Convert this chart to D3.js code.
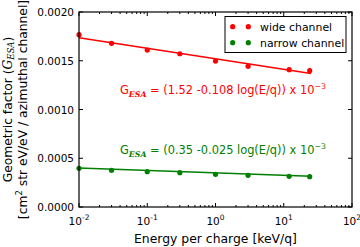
<!DOCTYPE html>
<html>
<head>
<meta charset="utf-8">
<script src="https://cdn.jsdelivr.net/npm/d3@7"></script>
<style>
  body { margin: 0; background: #fff; }
  svg { display: block; font-family: "DejaVu Sans", sans-serif; }
</style>
</head>
<body>
<svg id="chart" width="360" height="247"></svg>
<script>
// energy per charge [keV/q]
const energy = [0.01, 0.03, 0.1, 0.3, 1, 3, 12, 24];
const wideValues = [0.001767, 0.001679, 0.00161, 0.001572, 0.001497, 0.001443, 0.001408, 0.001398];
const narrowValues = [0.000397, 0.000376, 0.000362, 0.000352, 0.000335, 0.000325, 0.000315, 0.000311];
// fit line ends
const wideFit = [[0.01, 0.001736], [25, 0.001369]];
const narrowFit = [[0.01, 0.000400], [25, 0.000315]];
const yTicks = [0, 0.0005, 0.0010, 0.0015, 0.0020];
const xTicks = [1e-2, 1e-1, 1e0, 1e1, 1e2];
const xTickExp = ["-2", "-1", "0", "1", "2"];

const svg = d3.select("#chart");
const margin = {left: 79, right: 8, top: 12, bottom: 40};
const W = 360, H = 247;

const x = d3.scaleLog().domain([1e-2, 1e2]).range([margin.left, W - margin.right]);
const y = d3.scaleLinear().domain([0, 0.002]).range([H - margin.bottom, margin.top]);

const red = "#ff0000", green = "#008000";

// minor ticks
const minor = [];
for (let e = -2; e < 2; e++) for (let k = 2; k <= 9; k++) minor.push(k * Math.pow(10, e));

const g = svg.append("g");

// axes with ticks pointing in
const x0 = x.range()[0], x1 = x.range()[1], y0 = y.range()[0], y1 = y.range()[1];
g.selectAll(".xmaj").data(xTicks).enter().append("g").each(function(d) {
  const s = d3.select(this);
  s.append("line").attr("x1", x(d)).attr("x2", x(d)).attr("y1", y0).attr("y2", y0 - 4).attr("stroke", "#000");
  s.append("line").attr("x1", x(d)).attr("x2", x(d)).attr("y1", y1).attr("y2", y1 + 4).attr("stroke", "#000");
});
g.selectAll(".xmin").data(minor).enter().append("g").each(function(d) {
  const s = d3.select(this);
  s.append("line").attr("x1", x(d)).attr("x2", x(d)).attr("y1", y0).attr("y2", y0 - 2).attr("stroke", "#000");
  s.append("line").attr("x1", x(d)).attr("x2", x(d)).attr("y1", y1).attr("y2", y1 + 2).attr("stroke", "#000");
});
g.selectAll(".ymaj").data(yTicks).enter().append("g").each(function(d) {
  const s = d3.select(this);
  s.append("line").attr("x1", x0).attr("x2", x0 + 4).attr("y1", y(d)).attr("y2", y(d)).attr("stroke", "#000");
  s.append("line").attr("x1", x1).attr("x2", x1 - 4).attr("y1", y(d)).attr("y2", y(d)).attr("stroke", "#000");
  s.append("text").attr("x", x0 - 5).attr("y", y(d) + 4).attr("text-anchor", "end")
    .attr("font-size", 10.5).text(d3.format(".4f")(d));
});
g.selectAll(".xlab").data(xTicks).enter().append("text")
  .attr("x", d => x(d)).attr("y", y0 + 18).attr("text-anchor", "middle").attr("font-size", 10.5)
  .each(function(d, i) {
    const t = d3.select(this);
    t.append("tspan").text("10");
    t.append("tspan").attr("dy", -5).attr("font-size", 7.5).text(xTickExp[i]);
  });

// fit lines
const line = d3.line().x(d => x(d[0])).y(d => y(d[1]));
svg.append("path").datum(wideFit).attr("d", line).attr("fill", "none").attr("stroke", red).attr("stroke-width", 1.5);
svg.append("path").datum(narrowFit).attr("d", line).attr("fill", "none").attr("stroke", green).attr("stroke-width", 1.5);

// points
svg.selectAll(".wide").data(energy).enter().append("circle")
  .attr("cx", d => x(d)).attr("cy", (d, i) => y(wideValues[i])).attr("r", 2.6).attr("fill", red);
svg.selectAll(".narrow").data(energy).enter().append("circle")
  .attr("cx", d => x(d)).attr("cy", (d, i) => y(narrowValues[i])).attr("r", 2.6).attr("fill", green);

// frame
svg.append("rect").attr("x", x0).attr("y", y1).attr("width", x1 - x0).attr("height", y0 - y1)
  .attr("fill", "none").attr("stroke", "#000").attr("stroke-width", 1.2);

// legend
const leg = svg.append("g");
leg.append("rect").attr("x", 225).attr("y", 16.5).attr("width", 121).attr("height", 36)
  .attr("fill", "#fff").attr("stroke", "#000").attr("stroke-width", 1);
[["wide channel", red, 26.7], ["narrow channel", green, 42.7]].forEach(e => {
  leg.append("circle").attr("cx", 232.7).attr("cy", e[2]).attr("r", 2.6).attr("fill", e[1]);
  leg.append("circle").attr("cx", 248.3).attr("cy", e[2]).attr("r", 2.6).attr("fill", e[1]);
  leg.append("text").attr("x", 260).attr("y", e[2] + 4).attr("font-size", 10.9).text(e[0]);
});

// fit annotations
function annot(yy, color, a, b) {
  const t = svg.append("text").attr("x", 120).attr("y", yy).attr("font-size", 11.4).attr("fill", color);
  t.append("tspan").text("G");
  t.append("tspan").attr("dy", 3).attr("font-size", 7.8).attr("font-style", "italic")
    .attr("font-family", "DejaVu Serif").attr("font-weight", "bold").text("ESA");
  t.append("tspan").attr("dy", -3).text(" = (" + a + " " + b + " log(E/q)) x 10");
  t.append("tspan").attr("dy", -5).attr("font-size", 7.8).text("\u22123");
}
annot(94, red, "1.52", "-0.108");
annot(154, green, "0.35", "-0.025");

// axis titles
svg.append("text").attr("x", (x0 + x1) / 2).attr("y", 243).attr("text-anchor", "middle")
  .attr("font-size", 12.4).text("Energy per charge [keV/q]");
const yl = svg.append("g").attr("transform", `translate(11.5,${(y0 + y1) / 2}) rotate(-90)`);
const l1 = yl.append("text").attr("text-anchor", "middle").attr("font-size", 12.3);
l1.append("tspan").text("Geometric factor (");
l1.append("tspan").attr("font-family", "DejaVu Serif").attr("font-style", "italic").text("G");
l1.append("tspan").attr("dy", 2.5).attr("font-size", 8.5).attr("font-family", "DejaVu Serif")
  .attr("font-style", "italic").text("ESA");
l1.append("tspan").attr("dy", -2.5).text(")");
const l2 = yl.append("text").attr("y", 15).attr("text-anchor", "middle").attr("font-size", 12.3);
l2.append("tspan").text("[cm");
l2.append("tspan").attr("dy", -4.5).attr("font-size", 8.5).text("2");
l2.append("tspan").attr("dy", 4.5).text(" str eV/eV / azimuthal channel]");
</script>
</body>
</html>
